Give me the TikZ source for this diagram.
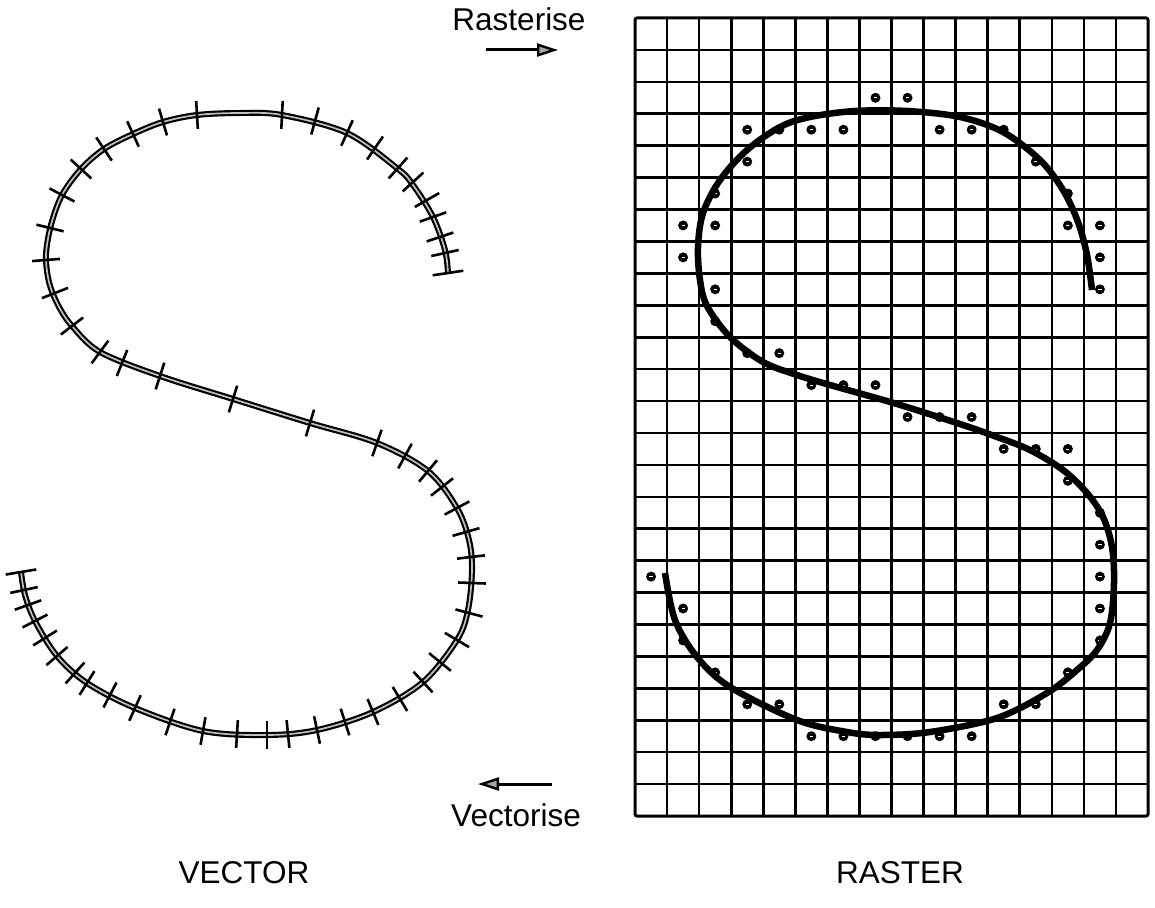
\documentclass[tikz,border=0pt]{standalone}
\usepackage{fontspec}
\setmainfont{Liberation Sans}
\usetikzlibrary{arrows.meta,calc}
\begin{document}
\begin{tikzpicture}[x=1pt,y=-1pt,
  lab/.style={font=\fontsize{31.5}{38}\selectfont, inner sep=0pt, anchor=base},
  gridl/.style={line width=2.6pt, black},
  vcurve/.style={line width=6pt, black, line cap=butt, line join=round},
  vcore/.style={line width=1.7pt, black!25, line join=round},
  rcurve/.style={line width=6.5pt, black, line join=round},
  tick/.style={line width=2.6pt, black},
  dotc/.style={black},
  flow/.style={line width=3pt, -{Triangle[length=21pt, width=13pt, line width=2.4pt, fill=black!35]}}
]
\useasboundingbox (0,0) rectangle (1155,907);

% ---------------- labels and arrows ----------------
\node[lab] (ras) at (519,31) {Rasterise};
\node[lab] (vec) at (516,826) {Vectorise};
\node[lab] (vl) at (244,883) {VECTOR};
\node[lab] (rl) at (900,883) {RASTER};
\coordinate (ra1) at (486,50);
\coordinate (ra2) at (558,50);
\coordinate (va1) at (552,784);
\coordinate (va2) at (478,784);
\draw[flow] (ra1) -- (ra2);
\draw[flow] (va1) -- (va2);

% ---------------- vector S ----------------
\def\vpath{plot[smooth, tension=0.55] coordinates {
 (448,273) (445,250) (433,217) (413,185) (398,169) (347,133) (282,115) (240,113) (197,115) (163,122) (133,134)
 (104,149) (81,169) (62,195) (51,225) (46,255) (49,282) (58,305) (72,326) (100,352) (160,376) (233,399)
 (310,423) (377,443) (428,471) (457,508) (469,540) (472,570) (468,610) (457,640) (423,682)
 (373,712) (317,730) (267,735) (203,731) (135,708) (87,683) (57,656) (35,621)
 (25,595) (21,572)}}
\draw[vcurve] \vpath;
\draw[vcore] \vpath;

\def\vlist{448/273, 445/253, 440/237, 433/217, 427/200, 413/182, 398/168, 375/148,
 347/133, 315/121, 282/115, 197/115, 163/122, 133/134, 104/149, 81/169, 62/195,
 50/228, 46/260, 55/293, 72/326, 100/352, 122/363, 160/376, 233/399, 310/423,
 377/443, 405/456, 428/471, 442/487, 457/508, 466/532, 471/557, 472/583, 469/613,
 457/640, 440/662, 423/682, 400/699, 373/712, 345/722, 317/730, 288/734, 267/735,
 237/734, 203/731, 170/722, 135/708, 110/695, 87/683, 75/673, 57/656, 45/638,
 35/621, 28/605, 24/590, 21/572}
\foreach \px/\py [count=\i] in \vlist { \coordinate (v\i) at (\px,\py); }
\foreach \i in {1,...,57}{
  \pgfmathtruncatemacro\ipr{max(1,\i-1)}
  \pgfmathtruncatemacro\inx{min(57,\i+1)}
  \pgfmathsetmacro\tl{(\i==1||\i==57)?15.5:14}
  \draw[tick] let \p1=(v\ipr), \p2=(v\inx), \n1={atan2(\y2-\y1,\x2-\x1)} in
    ($(v\i)+(\n1+90:\tl pt)$) -- ($(v\i)+(\n1-90:\tl pt)$);
}

% ---------------- raster grid ----------------
\begin{scope}[shift={(635,18)}, x=32.0625pt, y=-31.92pt]
  \foreach \i in {1,...,15} \draw[gridl] (\i,0) -- (\i,25);
  \foreach \j in {1,...,24} \draw[gridl] (0,\j) -- (16,\j);
  \draw[line width=3pt, rounded corners=2pt] (0,0) rectangle (16,25);
  \foreach \c/\r in {7/2,8/2,3/3,4/3,5/3,6/3,9/3,10/3,11/3,3/4,12/4,2/5,13/5,
     1/6,2/6,13/6,14/6,1/7,14/7,2/8,14/8,2/9,3/10,4/10,5/11,6/11,7/11,8/12,9/12,
     10/12,11/13,12/13,13/13,13/14,14/15,14/16,0/17,14/17,1/18,14/18,1/19,14/19,
     2/20,13/20,3/21,4/21,11/21,12/21,5/22,6/22,7/22,8/22,9/22,10/22}{
    \fill[dotc] (\c+0.5,\r+0.5) circle (5pt);
    \draw[white, line width=0.8pt] ($(\c+0.5,\r+0.5)+(-1.6pt,0)$) -- ($(\c+0.5,\r+0.5)+(1.6pt,0)$);
  }
\end{scope}

% ---------------- raster S ----------------
\draw[rcurve] plot[smooth, tension=0.55] coordinates {
 (1092,290) (1087,255) (1078,222) (1063,190) (1040,160) (1003,132) (960,117)
 (907,111) (855,111) (810,117) (780,127) (747,150) (720,180) (703,213) (698,247)
 (700,280) (707,306) (730,337) (763,362) (797,375) (830,385) (897,404) (963,425)
 (997,437) (1030,450) (1063,470) (1087,493) (1103,517) (1112,547) (1114,583)
 (1110,623) (1097,650) (1077,670) (1047,693) (997,718) (930,732) (880,735)
 (847,732) (797,720) (730,687) (697,657) (675,620) (665,573)};
\end{tikzpicture}
\end{document}
